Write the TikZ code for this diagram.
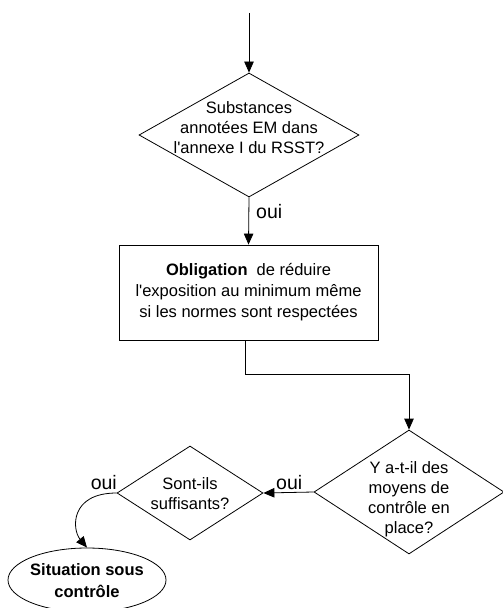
\documentclass[tikz,border=0pt]{standalone}
\usepackage{fontspec}
\setmainfont{Liberation Sans}[Ligatures=TeXOff]
\usetikzlibrary{shapes.geometric,arrows.meta}
\begin{document}
\begin{tikzpicture}[x=1bp,y=-1bp,
  every node/.style={font=\fontsize{16.5bp}{20bp}\selectfont, inner sep=0pt},
  decision/.style={draw, shape=diamond, line width=0.8bp, inner sep=0pt},
  label text/.style={align=center},
  stepbox/.style={draw, rectangle, line width=0.8bp, align=center,
    minimum width=259bp, minimum height=95bp,
    font=\fontsize{16.5bp}{21bp}\selectfont},
  terminal/.style={draw, ellipse, line width=0.8bp, minimum width=158bp, minimum height=64bp},
  flow/.style={line width=0.8bp, -{Triangle[length=11bp,width=9.5bp]}},
  answer/.style={font=\fontsize{19.5bp}{22bp}\selectfont}
]
\useasboundingbox (0,0) rectangle (503,608);

% incoming flow
\coordinate (start) at (249,13);

% first test
\node[decision, minimum width=220bp, minimum height=124bp] (d1) at (249,135) {};
\node[label text] (d1t) at (249,128) {Substances\\annotées EM dans\\l'annexe I du RSST?};

% obligation
\node[stepbox] (obl) at (248.5,292.5)
  {\textbf{Obligation}\hspace{0.55em}de réduire\\l'exposition au minimum même\\si les normes sont respectées};

% means of control
\node[decision, minimum width=190bp, minimum height=124bp] (d2) at (409,492) {};
\node[label text] (d2t) at (409,499) {Y a-t-il des\\moyens de\\contrôle en\\place?};

% sufficiency
\node[decision, minimum width=146bp, minimum height=94bp] (d3) at (190,493) {};
\node[label text] (d3t) at (190,493.5) {Sont-ils\\suffisants?};

% outcome
\node[terminal] (end) at (87,580) {};
\node[label text, font=\fontsize{16.5bp}{22bp}\selectfont\bfseries] (endt) at (87,581)
  {Situation sous\\contrôle};

% connectors
\draw[flow] (start) -- (d1.north);
\draw[flow] (d1.south) -- (obl.north);
\coordinate (bend) at (245,374);
\draw[flow] (obl.south -| bend) -- (bend) -| (d2.north);
\draw[flow] (d2.west) -- (d3.east);
\draw[flow] (d3.west) .. controls +(-47,0) and +(-15,-18) .. (end.north);

% answers
\node[answer, anchor=base west] (oui1) at (256,218) {oui};
\node[answer, anchor=base west] (oui2) at (276,489) {oui};
\node[answer, anchor=base east] (oui3) at (117,489) {oui};
\end{tikzpicture}
\end{document}
